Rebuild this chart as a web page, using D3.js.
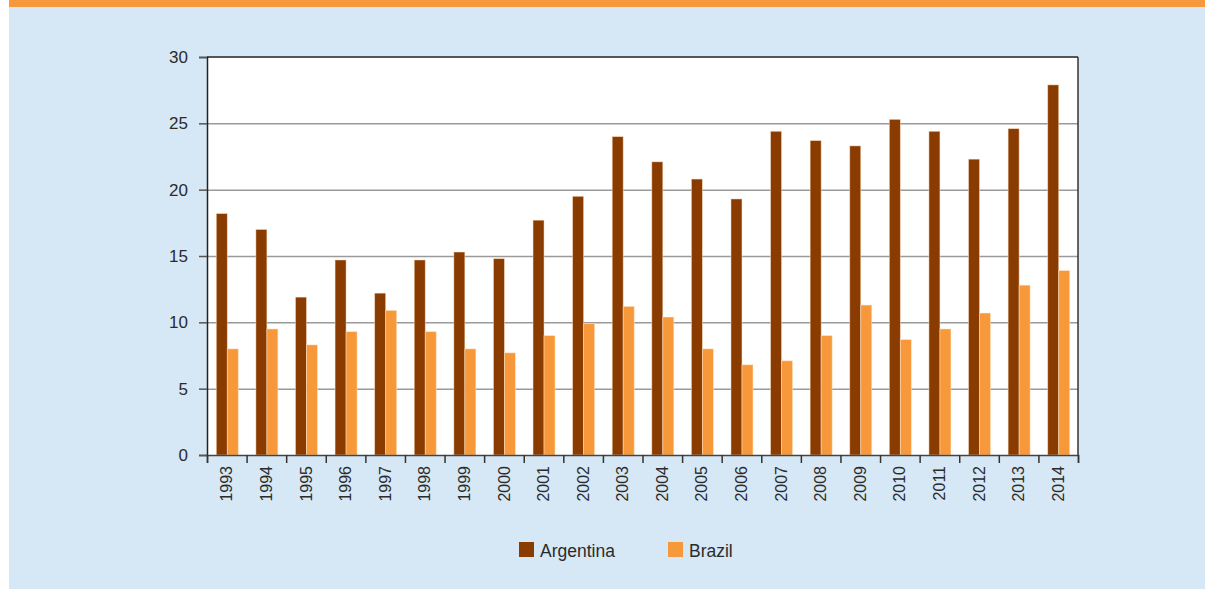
<!DOCTYPE html>
<html lang="en">
<head>
<meta charset="UTF-8">
<title>Argentina and Brazil</title>
<style>
  body { margin: 0; background: #fff; }
  svg { display: block; }
  text { font-family: "Liberation Sans", Arial, sans-serif; fill: #2b2b2b; }
</style>
</head>
<body>
<script src="https://cdn.jsdelivr.net/npm/d3@7"></script>
<script>
// data
var years = ["1993","1994","1995","1996","1997","1998","1999","2000","2001","2002","2003",
             "2004","2005","2006","2007","2008","2009","2010","2011","2012","2013","2014"];
var argentina = [18.2,17.0,11.9,14.7,12.2,14.7,15.3,14.8,17.7,19.5,24.0,
                 22.1,20.8,19.3,24.4,23.7,23.3,25.3,24.4,22.3,24.6,27.9];
var brazil = [8.0,9.5,8.3,9.3,10.9,9.3,8.0,7.7,9.0,9.9,11.2,
              10.4,8.0,6.8,7.1,9.0,11.3,8.7,9.5,10.7,12.8,13.9];
var seriesNames = ["Argentina","Brazil"];
var colors = ["#8a3b00","#f7993a"];
var yTicks = [0,5,10,15,20,25,30];

var width = 1205, height = 589;
var plot = {left:207, right:1078, top:57, bottom:455};

var svg = d3.select('body').append('svg')
    .attr('width', width)
    .attr('height', height);

// panel + orange banner
svg.append('rect').attr('x',9).attr('y',0).attr('width',width-9).attr('height',height).attr('fill','#d6e7f5');
svg.append('rect').attr('x',9).attr('y',0).attr('width',width-9).attr('height',7).attr('fill','#f7993a');

var xScale = d3.scaleBand()
    .domain(years)
    .range([plot.left, plot.right]);
var xSub = d3.scaleBand()
    .domain(seriesNames)
    .range([0, xScale.step()])
    .paddingOuter(0.8);
var xIdx = d3.scaleLinear().domain([0, years.length]).range([plot.left, plot.right]);
var yScale = d3.scaleLinear().domain([0,30]).range([plot.bottom, plot.top]);

// plot background
svg.append('rect')
    .attr('x',plot.left).attr('y',plot.top)
    .attr('width',plot.right-plot.left).attr('height',plot.bottom-plot.top)
    .attr('fill','#fff');

// gridlines
var grid = svg.append('g')
    .attr('transform','translate('+plot.left+',0)')
    .call(d3.axisLeft(yScale).tickValues(yTicks.slice(1,-1)).tickSize(-(plot.right-plot.left)).tickFormat(''));
grid.select('.domain').remove();
grid.selectAll('line').attr('stroke','#9a9a9a').attr('stroke-width',1.5);

// bars
var rows = years.map(function(y,i){ return {year:y, values:[argentina[i], brazil[i]]}; });
var groups = svg.selectAll('.grp')
    .data(rows)
    .enter()
    .append('g')
    .attr('class','grp')
    .attr('transform', function(d){ return 'translate('+(xScale(d.year)+0.5)+',0)'; });
groups.selectAll('rect')
    .data(function(d){ return d.values; })
    .enter()
    .append('rect')
    .attr('x', function(d,i){ return xSub(seriesNames[i]); })
    .attr('y', function(d){ return yScale(d); })
    .attr('width', xSub.bandwidth())
    .attr('height', function(d){ return plot.bottom - yScale(d); })
    .attr('fill', function(d,i){ return colors[i]; })
    .attr('stroke', 'rgba(255,230,200,0.6)')
    .attr('stroke-width', 0.8);

// borders: top and right
svg.append('line').attr('x1',plot.left).attr('x2',plot.right).attr('y1',plot.top).attr('y2',plot.top)
    .attr('stroke','#555').attr('stroke-width',2);
svg.append('line').attr('x1',plot.right).attr('x2',plot.right).attr('y1',plot.top).attr('y2',plot.bottom)
    .attr('stroke','#333').attr('stroke-width',1.5);

// y axis
var yAxis = svg.append('g')
    .attr('transform','translate('+plot.left+',0)')
    .call(d3.axisLeft(yScale).tickValues(yTicks).tickSize(8).tickPadding(11));
yAxis.select('.domain').attr('stroke','#222').attr('stroke-width',1.5);
yAxis.selectAll('line').attr('stroke','#555').attr('stroke-width',1.5);
yAxis.selectAll('text').attr('font-size','17px').attr('fill','#2b2b2b');

// x axis ticks at band edges
var xTickAxis = svg.append('g')
    .attr('transform','translate(0,'+plot.bottom+')')
    .call(d3.axisBottom(xIdx).tickValues(d3.range(years.length+1)).tickSize(8).tickFormat(''));
xTickAxis.select('.domain').attr('stroke','#444').attr('stroke-width',1.5);
xTickAxis.selectAll('line').attr('stroke','#333').attr('stroke-width',1.5);

// x labels
var xAxis = svg.append('g')
    .attr('transform','translate(0,'+plot.bottom+')')
    .call(d3.axisBottom(xScale).tickSize(0));
xAxis.select('.domain').remove();
xAxis.selectAll('text')
    .attr('font-size','16px')
    .attr('fill','#2b2b2b')
    .attr('transform','rotate(-90)')
    .attr('text-anchor','end')
    .attr('x',-11)
    .attr('y',0)
    .attr('dy','0.35em');

// legend
var legendX = [519, 668];
var legend = svg.selectAll('.legend')
    .data(seriesNames)
    .enter()
    .append('g')
    .attr('class','legend')
    .attr('transform', function(d,i){ return 'translate('+legendX[i]+',542)'; });
legend.append('rect')
    .attr('width',15).attr('height',15)
    .attr('fill', function(d,i){ return colors[i]; });
legend.append('text')
    .attr('x',21).attr('y',15)
    .attr('font-size','17.5px')
    .text(function(d){ return d; });
</script>
</body>
</html>
